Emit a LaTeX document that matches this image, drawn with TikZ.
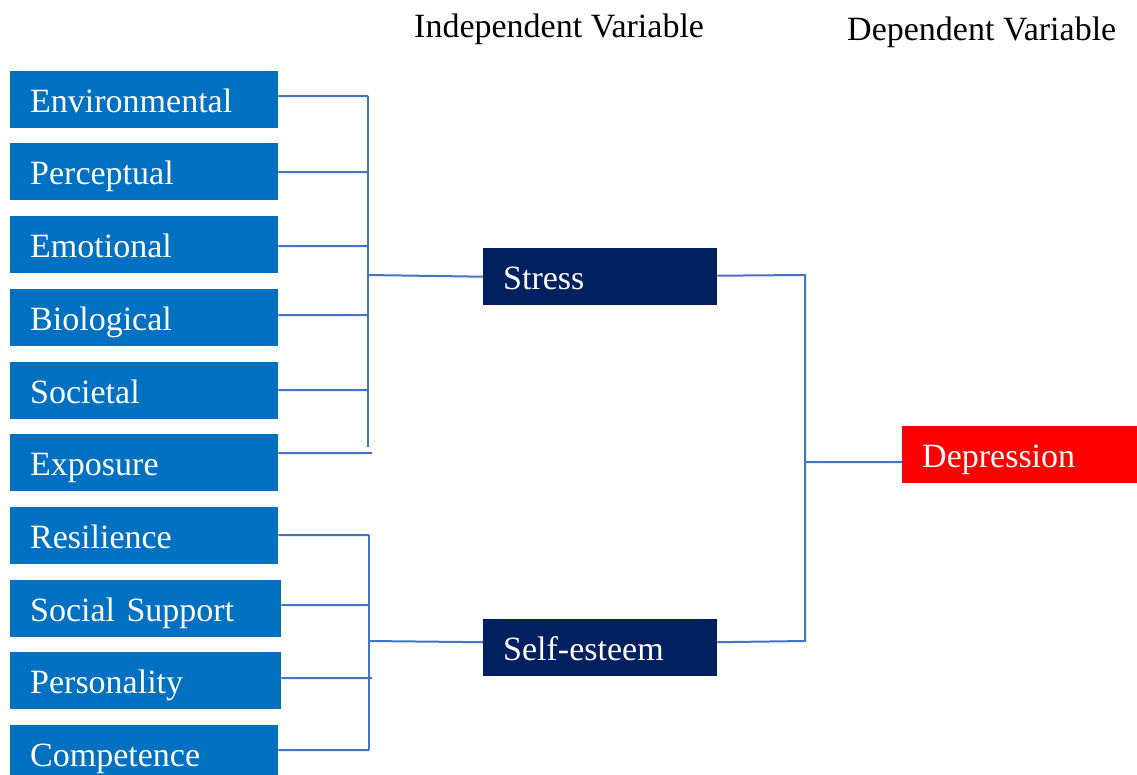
\documentclass[tikz,border=0pt]{standalone}
\usepackage{fontspec}
\setmainfont{Liberation Serif}
\usetikzlibrary{calc}
\definecolor{boxblue}{HTML}{0070C0}
\definecolor{navy}{HTML}{002060}
\definecolor{linec}{HTML}{4472C4}
\begin{document}
\begin{tikzpicture}[x=1pt,y=-1pt,
  lbl/.style={inner xsep=20pt, inner ysep=0pt, text height=26pt, text depth=0pt,
    align=left, text=white, font=\fontsize{34}{34}\selectfont, anchor=north west, minimum height=57pt},
  leftbox/.style={lbl, fill=boxblue, text width=#1},
  leftbox/.default=228pt,
  midbox/.style={lbl, fill=navy, text width=194pt},
  depbox/.style={lbl, fill=red, text width=195pt},
  head/.style={font=\fontsize{34}{34}\selectfont, anchor=base west, inner sep=0pt},
  conn/.style={draw=linec, line width=2pt}]
\useasboundingbox (0,0) rectangle (1137,774);
\fill[white] (0,0) rectangle (1137,774);
% headings
\node[head] (hind) at (414,37) {Independent Variable};
\node[head] (hdep) at (847,40) {Dependent Variable};
% left boxes
\node[leftbox] (env) at (10,71) {Environmental};
\node[leftbox] (per) at (10,143) {Perceptual};
\node[leftbox] (emo) at (10,216) {Emotional};
\node[leftbox] (bio) at (10,289) {Biological};
\node[leftbox] (soc) at (10,362) {Societal};
\node[leftbox] (exp) at (10,434) {Exposure};
\node[leftbox] (res) at (10,507) {Resilience};
\node[leftbox=231pt] (sup) at (10,580) {Social Support};
\node[leftbox=231pt] (pers) at (10,652) {Personality};
\node[leftbox] (comp) at (10,725) {Competence};
% middle and right boxes
\node[midbox] (stress) at (483,248) {Stress};
\node[midbox] (self) at (483,619) {Self-esteem};
\node[depbox] (dep) at (902,426) {Depression};
% upper bracket
\coordinate (ut) at (368,96);
\coordinate (ub) at (368,447);
\draw[conn] (ut) -- (ub);
\draw[conn] ([yshift=3.5pt]env.east) -- (ut);
\draw[conn] ([yshift=-0.5pt]per.east) -- (ut |- 0,172);
\draw[conn] ([yshift=-1.5pt]emo.east) -- (ut |- 0,246);
\draw[conn] ([yshift=2.5pt]bio.east) -- (ut |- 0,315);
\draw[conn] ([yshift=0.5pt]soc.east) -- (ut |- 0,390);
\draw[conn] ([yshift=9.5pt]exp.east) -- (372,453);
\coordinate (um) at (368,275);
\draw[conn] (um) -- (stress.west);
% lower bracket
\coordinate (lt) at (369,535);
\coordinate (lb) at (369,750);
\draw[conn] (lt) -- (lb);
\draw[conn] ([yshift=0.5pt]res.east) -- (lt);
\draw[conn] ([yshift=3.5pt]sup.east) -- (lt |- 0,605);
\draw[conn] ([yshift=2.5pt]pers.east) -- (372,678);
\draw[conn] ([yshift=3.5pt]comp.east) -- (lb);
\coordinate (lm) at (369,641);
\draw[conn] (lm) -- ([yshift=5.5pt]self.west);
% right bracket
\coordinate (rt) at (805,275);
\coordinate (rb) at (805,641);
\coordinate (rm) at (805,462);
\draw[conn] ([yshift=1pt]stress.east) -- (rt) -- (rb) -- ([yshift=5.5pt]self.east);
\draw[conn] (rm) -- ([yshift=-7.5pt]dep.west);
\end{tikzpicture}
\end{document}
